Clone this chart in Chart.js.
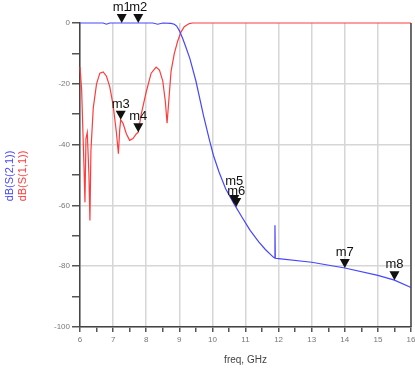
<!DOCTYPE html>
<html>
<head>
<meta charset="utf-8">
<script src="https://cdn.jsdelivr.net/npm/chart.js@4"></script>
<style>
    html, body { margin: 0; padding: 0; background: #fff; }
    #wrap { width: 415px; height: 371px; position: relative; }
</style>
</head>
<body>
<div id="wrap"><canvas id="chart-sparams"></canvas></div>
<script>
// dB(S(2,1)) - blue
const freqS21 = [6.0, 6.7, 6.8, 6.9, 8.2, 8.35, 8.5, 8.75, 8.85, 8.92, 9.0, 9.1, 9.2, 9.32, 9.5, 9.73, 9.9, 10.03, 10.2, 10.4, 10.68, 10.9, 11.14, 11.4, 11.6, 11.84, 11.88, 11.89, 11.9, 12.0, 13.0, 14.0, 15.0, 15.5, 16.0];
const valS21 = [0, 0, -0.4, 0, 0, -0.4, 0, -0.1, -0.4, -1, -2.5, -5, -8, -11.7, -19, -30.4, -38, -43.5, -49, -54.5, -60, -64, -68.2, -72, -74.5, -77, -77.3, -66.5, -77.4, -77.5, -78.7, -80.6, -83, -84.6, -87];

// dB(S(1,1)) - red
const freqS11 = [6.0, 6.05, 6.08, 6.12, 6.15, 6.18, 6.22, 6.27, 6.3, 6.33, 6.4, 6.5, 6.6, 6.7, 6.8, 6.9, 7.0, 7.1, 7.16, 7.2, 7.23, 7.3, 7.4, 7.5, 7.6, 7.7, 7.76, 7.85, 8.0, 8.15, 8.3, 8.4, 8.5, 8.58, 8.63, 8.68, 8.75, 8.85, 8.95, 9.05, 9.15, 9.3, 9.4, 16.0];
const valS11 = [-14.5, -22, -33, -47, -59, -38, -36, -50, -65, -42, -28, -20, -16.5, -16.1, -17.5, -21, -27, -36, -43, -35, -31.8, -33, -36.4, -38.6, -38, -36.5, -35.9, -30, -22.7, -16.5, -14.5, -15.5, -19, -26, -33, -26, -16, -10, -6, -3, -1.2, -0.2, 0, 0];

// markers
const markerNames = ["m1", "m2", "m3", "m4", "m5", "m6", "m7", "m8"];
const markerFreqs = [7.26, 7.76, 7.23, 7.76, 10.66, 10.72, 14.0, 15.5];
const markerValues = [0, 0, -31.8, -35.9, -59.5, -60.5, -80.6, -84.6];

const xTicks = [6, 7, 8, 9, 10, 11, 12, 13, 14, 15, 16];
const yTicks = [0, -20, -40, -60, -80, -100];

const BLUE = "rgb(70, 70, 255)";
const RED = "rgb(255, 60, 60)";

function toPoints(xs, ys) {
    return xs.map((x, i) => ({ x: x, y: ys[i] }));
}

const markerPlugin = {
    id: "markers",
    afterDatasetsDraw(chart) {
        const ctx = chart.ctx;
        const sx = chart.scales.x;
        const sy = chart.scales.y;
        ctx.save();
        ctx.fillStyle = "#111";
        ctx.font = "13px 'Liberation Sans', Arial, sans-serif";
        ctx.textAlign = "center";
        ctx.textBaseline = "bottom";
        markerNames.forEach((name, i) => {
            const px = sx.getPixelForValue(markerFreqs[i]);
            const py = sy.getPixelForValue(markerValues[i]);
            ctx.beginPath();
            ctx.moveTo(px - 5, py - 9);
            ctx.lineTo(px + 5, py - 9);
            ctx.lineTo(px, py);
            ctx.closePath();
            ctx.fill();
            const extra = name === "m5" ? -7 : 0;
            ctx.fillText(name, px, py - 9 + extra);
        });
        ctx.restore();
    }
};

const framePlugin = {
    id: "frame",
    afterDraw(chart) {
        const ctx = chart.ctx;
        const area = chart.chartArea;
        ctx.save();
        ctx.strokeStyle = "#444";
        ctx.lineWidth = 1.5;
        ctx.beginPath();
        ctx.moveTo(area.right, area.top);
        ctx.lineTo(area.right, area.bottom);
        ctx.stroke();

        // y title, two lines in two colours
        ctx.font = "11px 'Liberation Sans', Arial, sans-serif";
        ctx.textAlign = "center";
        ctx.textBaseline = "middle";
        ctx.translate(0, 176);
        ctx.rotate(-Math.PI / 2);
        ctx.fillStyle = BLUE;
        ctx.fillText("dB(S(2,1))", 0, 10);
        ctx.fillStyle = RED;
        ctx.fillText("dB(S(1,1))", 0, 23);
        ctx.restore();
    }
};

new Chart(document.getElementById("chart-sparams"), {
    type: "line",
    data: {
        datasets: [
            {
                label: "dB(S(2,1))",
                data: toPoints(freqS21, valS21),
                borderColor: BLUE,
                borderWidth: 1.2,
                pointRadius: 0,
                tension: 0,
                clip: false
            },
            {
                label: "dB(S(1,1))",
                data: toPoints(freqS11, valS11),
                borderColor: RED,
                borderWidth: 1.2,
                pointRadius: 0,
                tension: 0,
                clip: false
            }
        ]
    },
    options: {
        responsive: true,
        maintainAspectRatio: false,
        animation: false,
        layout: { padding: { top: 23, right: 4, left: 0, bottom: 0 } },
        plugins: {
            legend: { display: false },
            tooltip: { enabled: false }
        },
        scales: {
            x: {
                type: "linear",
                min: 6,
                max: 16,
                afterFit: (scale) => {
                    scale.height = 44;
                    scale.paddingRight = 0;
                },
                ticks: {
                    stepSize: 0.5,
                    autoSkip: false,
                    maxRotation: 0,
                    color: "#777",
                    font: { size: 8, family: "'Liberation Sans', Arial, sans-serif" },
                    padding: 3,
                    callback: (v) => xTicks.includes(v) ? String(v) : ""
                },
                grid: {
                    color: (c) => xTicks.includes(c.tick.value) ? "#d6d6d6" : "rgba(0,0,0,0)",
                    lineWidth: 1.5,
                    tickColor: "#555",
                    tickLength: 5
                },
                border: { color: "#444", width: 1.5 },
                title: {
                    display: true,
                    text: "freq, GHz",
                    color: "#444",
                    font: { size: 10, family: "'Liberation Sans', Arial, sans-serif" },
                    padding: { top: 2, bottom: 5 }
                }
            },
            y: {
                min: -100,
                max: 0,
                afterFit: (scale) => { scale.width = 80; },
                ticks: {
                    stepSize: 10,
                    autoSkip: false,
                    color: "#777",
                    font: { size: 8, family: "'Liberation Sans', Arial, sans-serif" },
                    padding: 2,
                    callback: (v) => yTicks.includes(v) ? String(v) : ""
                },
                grid: {
                    color: (c) => yTicks.includes(c.tick.value) && c.tick.value !== 0 ? "#d6d6d6" : "rgba(0,0,0,0)",
                    lineWidth: 1.5,
                    tickColor: "#555",
                    tickLength: 8
                },
                border: { color: "#444", width: 1.5 }
            }
        }
    },
    plugins: [markerPlugin, framePlugin]
});
</script>
</body>
</html>
